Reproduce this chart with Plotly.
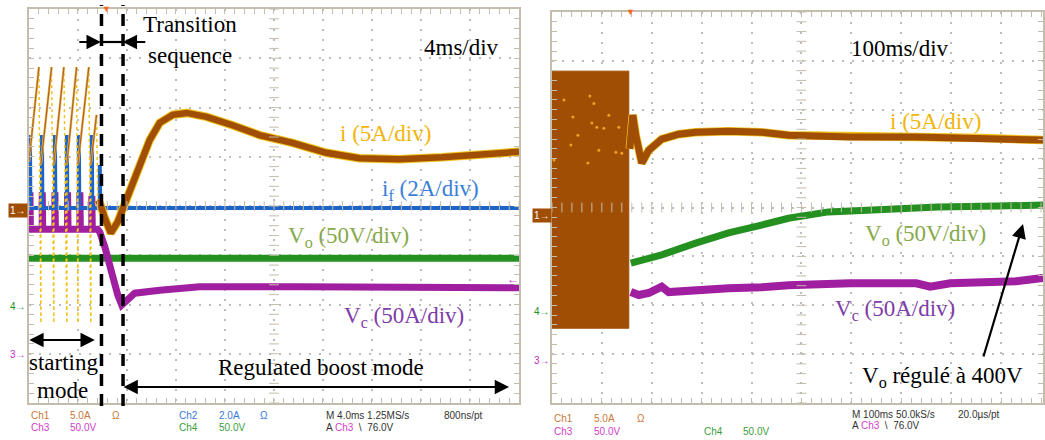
import numpy as np
import plotly.graph_objects as go

W, H = 1045, 440

# ---------------- data (oscilloscope divisions: x 0..10, y 0..8) ----------------
# Left capture, 4 ms/div
transition_x = [1.48, 1.92]

L_i_ramp_x0 = [0.000, 0.244, 0.509, 0.774, 1.000, 1.263]
L_i_ramp_y0 = [4.90, 4.85, 4.85, 4.85, 4.85, 4.85]
L_i_ramp_x1 = [0.204, 0.462, 0.713, 0.972, 1.222, 1.379]
L_i_ramp_y1 = [6.82, 6.82, 6.82, 6.82, 6.82, 5.85]
L_i_drop_low = [1.62, 1.62, 1.62, 1.62, 1.62]
L_i_x = [1.405, 1.446, 1.548, 1.670, 1.813, 1.955, 2.118, 2.261, 2.464, 2.668,
         2.933, 3.218, 3.625, 4.155, 4.705, 5.377, 6.069, 6.741, 7.556, 8.432, 9.124, 10.0]
L_i_y = [4.12, 4.06, 3.76, 3.45, 3.68, 4.06, 4.43, 4.79, 5.34, 5.69,
         5.85, 5.89, 5.81, 5.64, 5.44, 5.28, 5.08, 4.97, 4.95, 4.99, 5.04, 5.10]

L_if_x = [0.0, 10.0]
L_if_y = [3.96, 3.96]
L_if_spike_x = [0.02, 0.265, 0.53, 0.774, 1.018, 1.283, 1.446]
L_if_spike_y = [5.44, 5.44, 5.44, 5.44, 5.44, 5.44, 4.83]

L_vo_x = [0.0, 10.0]
L_vo_y = [2.94, 2.94]

L_vc_start_y = 3.53
L_vc_spike_x = [0.02, 0.271, 0.53, 0.788, 1.039, 1.283]
L_vc_spike_y = [4.28, 4.28, 4.28, 4.28, 4.28, 4.20]
L_vc_x = [1.40, 1.446, 1.548, 1.690, 1.813, 1.894, 1.996, 2.159, 2.668, 3.483, 5.52, 7.556, 10.0]
L_vc_y = [3.53, 3.47, 3.17, 2.60, 2.19, 1.99, 2.09, 2.23, 2.29, 2.36, 2.36, 2.36, 2.34]

# Right capture, 100 ms/div
R_block_x = [0.0, 1.54]
R_block_y = [1.53, 6.79]
R_i_x = [1.56, 1.58, 1.62, 1.68, 1.80, 1.94, 2.20, 2.54, 2.88, 3.54, 4.20, 4.74, 5.98, 7.30, 8.64, 9.84]
R_i_y = [5.20, 5.38, 5.89, 5.48, 4.91, 5.17, 5.40, 5.50, 5.54, 5.56, 5.54, 5.48, 5.44, 5.44, 5.42, 5.38]
R_vo_x = [1.58, 1.88, 2.20, 2.88, 3.54, 4.20, 4.74, 5.54, 6.54, 7.74, 8.94, 9.84]
R_vo_y = [2.86, 2.94, 3.03, 3.27, 3.48, 3.64, 3.78, 3.91, 3.97, 4.01, 4.03, 4.05]
R_vc_x = [1.58, 1.74, 1.94, 2.20, 2.34, 2.54, 2.88, 3.54, 4.20, 4.74, 5.98, 7.30, 7.58, 7.98, 9.30, 9.84]
R_vc_y = [2.27, 2.21, 2.25, 2.38, 2.27, 2.29, 2.31, 2.35, 2.37, 2.41, 2.45, 2.45, 2.38, 2.45, 2.49, 2.56]
R_dots_x = [0.24, 0.76, 0.84, 0.42, 1.14, 0.80, 0.90, 1.04, 1.34, 0.52, 0.38, 0.94, 1.28, 1.40, 0.72, 0.04]
R_dots_y = [6.20, 6.28, 6.13, 5.85, 5.89, 5.73, 5.64, 5.62, 5.64, 5.48, 5.28, 5.17, 5.13, 5.11, 4.91, 4.97]

# ---------------- styles ----------------
BROWN = '#a14e05'
YELLOW = '#f2c21b'
BLUE = '#1c64c8'
GREEN = '#23901f'
PURPLE = '#a01ea0'
SERIF = 'Liberation Serif, Times New Roman, serif'
SANS = 'Liberation Sans, Arial, sans-serif'
FRAME = '#c4bcac'
GRID = '#bdbdbd'

fig = go.Figure()


def line(x, y, color, width, xa='x', ya='y', dash=None):
    fig.add_trace(go.Scatter(x=x, y=y, mode='lines', xaxis=xa, yaxis=ya,
                             line=dict(color=color, width=width, dash=dash),
                             hoverinfo='skip', showlegend=False))


# ---- left panel traces ----
line(L_vo_x, L_vo_y, GREEN, 7)

vx, vy = [0.0], [L_vc_start_y]
for sx, sy in zip(L_vc_spike_x, L_vc_spike_y):
    vx += [sx, sx, sx + 0.01]
    vy += [L_vc_start_y, sy, L_vc_start_y]
vx += L_vc_x
vy += L_vc_y
line(vx, vy, PURPLE, 7)

bx, by = [L_if_x[0]], [L_if_y[0]]
for sx, sy in zip(L_if_spike_x, L_if_spike_y):
    bx += [sx, sx, sx + 0.01]
    by += [L_if_y[0], sy, L_if_y[0]]
bx += [L_if_x[1]]
by += [L_if_y[1]]
line(bx, by, BLUE, 4)

# fast falling edges (yellow dotted)
dx, dy = [], []
for k in range(len(L_i_drop_low)):
    dx += [L_i_ramp_x1[k], L_i_ramp_x0[k + 1], L_i_ramp_x0[k + 1], None]
    dy += [L_i_ramp_y1[k], L_i_drop_low[k], L_i_ramp_y0[k + 1], None]
dx += [L_i_ramp_x1[-1], L_i_x[0]]
dy += [L_i_ramp_y1[-1], L_i_y[0]]
line(dx, dy, YELLOW, 1.5, dash='dot')

rx, ry = [], []
for x0, y0, x1, y1 in zip(L_i_ramp_x0, L_i_ramp_y0, L_i_ramp_x1, L_i_ramp_y1):
    rx += [x0, x1, None]
    ry += [y0, y1, None]
line(rx, ry, '#e8c060', 2.5)
line(rx, ry, '#b5651d', 1.3)
line(L_i_x, L_i_y, YELLOW, 8.5)
line(L_i_x, L_i_y, BROWN, 6.5)

# ---- right panel traces ----
line(R_vo_x, R_vo_y, GREEN, 7, 'x2', 'y2')
line(R_vc_x, R_vc_y, PURPLE, 8, 'x2', 'y2')
fig.add_trace(go.Scatter(
    x=[R_block_x[0], R_block_x[0], R_block_x[1], R_block_x[1], R_block_x[0]],
    y=[R_block_y[0], R_block_y[1], R_block_y[1], R_block_y[0], R_block_y[0]],
    mode='lines', fill='toself', fillcolor=BROWN, line=dict(color=BROWN, width=1),
    xaxis='x2', yaxis='y2', hoverinfo='skip', showlegend=False))
fig.add_trace(go.Scatter(x=R_dots_x, y=R_dots_y, mode='markers', xaxis='x2', yaxis='y2',
                         marker=dict(color='#f0a020', size=3), hoverinfo='skip', showlegend=False))
line(R_i_x, R_i_y, YELLOW, 8.5, 'x2', 'y2')
line(R_i_x, R_i_y, BROWN, 7, 'x2', 'y2')

# ---- centre cross tick marks ----
vt = np.round(np.arange(0, 8.001, 0.2), 2)
for xa, ya, xmax in (('x', 'y', 10.0), ('x2', 'y2', 9.84)):
    ht = np.round(np.arange(0, xmax + 0.001, 0.2), 2)
    fig.add_trace(go.Scatter(x=[5] * len(vt), y=vt, mode='markers', xaxis=xa, yaxis=ya,
                             marker=dict(symbol='line-ew', size=7, line=dict(color=FRAME, width=1)),
                             hoverinfo='skip', showlegend=False))
    fig.add_trace(go.Scatter(x=ht, y=[4] * len(ht), mode='markers', xaxis=xa, yaxis=ya,
                             marker=dict(symbol='line-ns', size=7, line=dict(color=FRAME, width=1)),
                             hoverinfo='skip', showlegend=False))


def axis(domain, rng, anchor):
    return dict(domain=domain, range=rng, anchor=anchor, dtick=1, tick0=0,
                showgrid=True, gridcolor=GRID, gridwidth=1.5, griddash='2px,8px',
                zeroline=False, showline=True, linecolor=FRAME, linewidth=1.5, mirror='allticks',
                ticks='inside', ticklen=5, tickcolor=FRAME, showticklabels=False,
                minor=dict(dtick=0.2, ticks='inside', ticklen=5, tickcolor=FRAME, showgrid=False),
                fixedrange=True)


fig.update_layout(
    width=W, height=H, autosize=False, margin=dict(l=0, r=0, t=0, b=0),
    paper_bgcolor='white', plot_bgcolor='white', showlegend=False,
    xaxis=axis([29 / W, 520 / W], [0, 10], 'y'),
    yaxis=axis([(H - 403) / H, (H - 9) / H], [0, 8], 'x'),
    xaxis2=axis([553 / W, 1.0], [0, 9.84], 'y2'),
    yaxis2=axis([(H - 403) / H, (H - 12) / H], [0, 8], 'x2'),
)


def P(px, py):
    return px / W, 1 - py / H


ann = []


def txt(s, px, py, size=23, color='black', family=SERIF, xanchor='center', bg=None):
    x, y = P(px, py)
    d = dict(text=s, x=x, y=y, xref='paper', yref='paper', showarrow=False,
             xanchor=xanchor, yanchor='middle', font=dict(size=size, color=color, family=family))
    if bg:
        d['bgcolor'] = bg
    ann.append(d)


def arrow(hx, hy, tx, ty, both=False):
    x, y = P(hx, hy)
    ann.append(dict(text='', x=x, y=y, xref='paper', yref='paper', ax=tx - hx, ay=ty - hy,
                    axref='pixel', ayref='pixel', showarrow=True, arrowhead=2, arrowsize=1.3,
                    arrowwidth=2.2, arrowcolor='black', arrowside='end+start' if both else 'end'))


# left panel labels
txt('Transition', 190, 25)
txt('sequence', 190, 55)
txt('4ms/div', 462, 47)
txt('i (5A/div)', 386, 133, color='#f2b50a')
txt('i<sub>f</sub> (2A/div)', 431, 190, color='#3b7fd9')
txt('V<sub>o</sub> (50V/div)', 349, 237, color='#86a94a')
txt('V<sub>c</sub> (50A/div)', 405, 317, color='#7e3ca8')
txt('starting', 64, 362)
txt('mode', 63, 390)
txt('Regulated boost mode', 322, 367)
arrow(95, 340, 28, 340, both=True)
arrow(510, 387, 123, 387, both=True)
arrow(101, 42, 78, 42)
arrow(123, 42, 147, 42)

# right panel labels
txt('100ms/div', 902, 48)
txt('i (5A/div)', 937, 121, color='#f2b50a')
txt('V<sub>o</sub> (50V/div)', 927, 235, color='#86a94a')
txt('V<sub>c</sub> (50A/div)', 897, 310, color='#7e3ca8')
txt('V<sub>o</sub> régulé à 400V', 944, 377)
arrow(1025, 224, 985, 358)

# channel markers / trigger markers
for px, py in ((28, 210), (553, 215)):
    txt('1\u2192', px, py, size=10, color='white', family=SANS, xanchor='right', bg=BROWN)
for px, py in ((28, 306), (553, 311)):
    txt('4\u2192', px, py, size=10, color=GREEN, family=SANS, xanchor='right')
for px, py in ((28, 354), (553, 360)):
    txt('3\u2192', px, py, size=10, color='#c030c0', family=SANS, xanchor='right')
for px, py in ((107, 9), (632, 12)):
    txt('\u25BC', px, py, size=9, color='#ff6a1a', family=SANS)
txt('\u2190', 514, 279, size=12, color='#d040d0', family=SANS)

# scope status text
OR, MG, BL, GR, DK = '#c8783a', '#d040c8', '#3a78d8', '#3aa03a', '#333333'
status = [
    ('Ch1', 29, 415, OR), ('5.0A', 68, 415, OR), ('\u03A9', 110, 415, OR),
    ('Ch3', 29, 427, MG), ('50.0V', 68, 427, MG),
    ('Ch2', 177, 415, BL), ('2.0A', 217, 415, BL), ('\u03A9', 258, 415, BL),
    ('Ch4', 177, 427, GR), ('50.0V', 217, 427, GR),
    ('M 4.0ms 1.25MS/s', 325, 415, DK), ('800ns/pt', 443, 415, DK),
    ("A <span style='color:#d040c8'>Ch3</span>  \\  76.0V", 325, 427, DK),
    ('Ch1', 553, 418, OR), ('5.0A', 593, 418, OR), ('\u03A9', 636, 418, OR),
    ('Ch3', 553, 431, MG), ('50.0V', 593, 431, MG),
    ('Ch4', 703, 431, GR), ('50.0V', 742, 431, GR),
    ('M 100ms 50.0kS/s', 852, 414, DK), ('20.0\u00b5s/pt', 958, 414, DK),
    ("A <span style='color:#d040c8'>Ch3</span>  \\  76.0V", 852, 425, DK),
]
for s, px, py, c in status:
    txt(s, px, py, size=10, color=c, family=SANS, xanchor='left')

# transition boundaries and connector
shapes = []
for xb in transition_x:
    shapes.append(dict(type='line', xref='x', yref='paper', x0=xb, x1=xb,
                       y0=1 - 406 / H, y1=1 - 5 / H,
                       line=dict(color='black', width=3.5, dash='12px,8px')))
shapes.append(dict(type='line', xref='x', yref='paper', x0=transition_x[0], x1=transition_x[1],
                   y0=1 - 42 / H, y1=1 - 42 / H, line=dict(color='black', width=2.2)))

fig.update_layout(annotations=ann, shapes=shapes)
fig.write_html('out.html', config={'displayModeBar': False},
               post_script="document.body.style.margin='0px';document.body.style.overflow='hidden';")
